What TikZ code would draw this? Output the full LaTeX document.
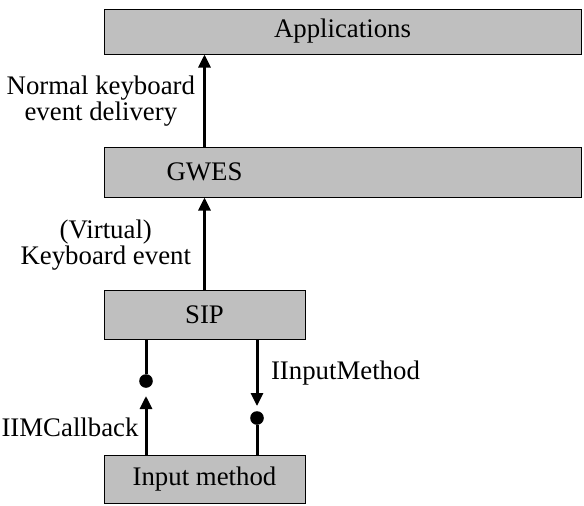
\documentclass[tikz,border=0pt]{standalone}
\usepackage{fontspec}
\setmainfont{Liberation Serif}
\usetikzlibrary{arrows.meta}

\begin{document}
\begin{tikzpicture}[x=0.5pt,y=-0.5pt,
        font=\fontsize{13.4}{13}\selectfont,
        box/.style={draw,line width=0.5pt,fill=black!25,inner sep=0pt},
        conn/.style={line width=1.5pt},
        arr/.style={conn,-{Triangle[length=6.5pt,width=6pt]}},
        dot/.style={circle,fill=black,inner sep=0pt,minimum size=6.8pt}]
        \useasboundingbox (0,0) rectangle (584,505);
        % layers
        \node[box,minimum width=238.5pt,minimum height=22.5pt] at (342.5,31.5) (app) {Applications};
        \node[box,minimum width=238.5pt,minimum height=25pt] at (342.5,172) (gwes) {};
        \node[box,minimum width=100.5pt,minimum height=24.5pt] at (204.5,314.5) (sip) {SIP};
        \node[box,minimum width=100.5pt,minimum height=24pt] at (204.5,479) (im) {Input method};
        \node at (gwes.center -| sip.center) (gwestext) {GWES};
        % interfaces
        \node[dot] at (146,381) (cbdot) {};
        \node[dot] at (257,418) (imdot) {};
        \coordinate (cbtip) at (146,396);
        \coordinate (imtip) at (257,406);
        % events
        \draw[arr] (gwes.north -| sip.center) -- (app.south -| sip.center)
            node[midway,left,align=center,inner xsep=4pt,yshift=-0.5pt] (normal) {Normal keyboard\\event delivery};
        \draw[arr] (sip.north) -- (sip.center |- gwes.south)
            node[midway,left,align=center,inner xsep=6pt,yshift=-1pt] (virtual) {(Virtual)\\Keyboard event};
        \draw[conn] (sip.south -| cbdot) -- (cbdot);
        \draw[arr] (im.north -| cbdot) -- (cbtip)
            node[midway,left,inner xsep=3pt,yshift=-1pt] (cblabel) {IIMCallback};
        \draw[arr] (sip.south -| imdot) -- (imtip);
        \draw[conn] (imdot) -- (im.north -| imdot);
        \node[anchor=west] at (264,373) (imlabel) {IInputMethod};
    \end{tikzpicture}
\end{document}
